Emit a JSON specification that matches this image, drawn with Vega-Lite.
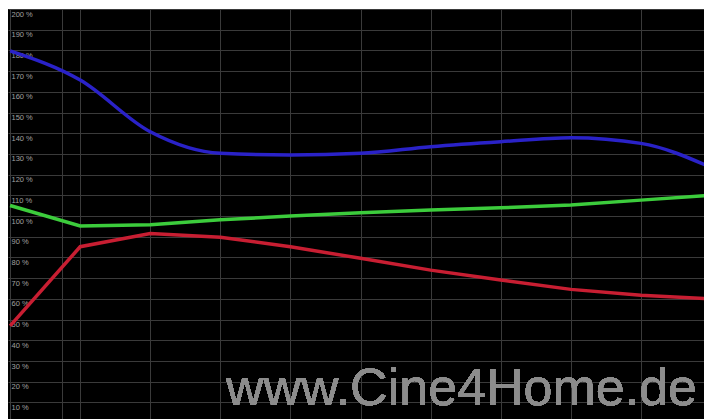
{
  "$schema": "https://vega.github.io/schema/vega-lite/v6.json",
  "width": 704,
  "height": 419,
  "autosize": {"type": "fit", "contains": "padding"},
  "padding": {"top": 9, "left": 8, "right": 0, "bottom": 0},
  "background": "white",
  "config": {"view": {"fill": "black", "stroke": null}},
  "data": {
    "values": [
      {"channel": "Blau", "ire": 0, "pct": 179.8},
      {"channel": "Blau", "ire": 10, "pct": 165.7},
      {"channel": "Blau", "ire": 20, "pct": 140.7},
      {"channel": "Blau", "ire": 30, "pct": 130.3},
      {"channel": "Blau", "ire": 40, "pct": 129.5},
      {"channel": "Blau", "ire": 50, "pct": 130.3},
      {"channel": "Blau", "ire": 60, "pct": 133.5},
      {"channel": "Blau", "ire": 70, "pct": 135.9},
      {"channel": "Blau", "ire": 80, "pct": 137.8},
      {"channel": "Blau", "ire": 90, "pct": 135.1},
      {"channel": "Blau", "ire": 100, "pct": 123.5},
      {"channel": "Grün", "ire": 0, "pct": 105.1},
      {"channel": "Grün", "ire": 10, "pct": 95.2},
      {"channel": "Grün", "ire": 20, "pct": 95.8},
      {"channel": "Grün", "ire": 30, "pct": 98.2},
      {"channel": "Grün", "ire": 40, "pct": 100.0},
      {"channel": "Grün", "ire": 50, "pct": 101.6},
      {"channel": "Grün", "ire": 60, "pct": 102.9},
      {"channel": "Grün", "ire": 70, "pct": 104.0},
      {"channel": "Grün", "ire": 80, "pct": 105.3},
      {"channel": "Grün", "ire": 90, "pct": 107.7},
      {"channel": "Grün", "ire": 100, "pct": 110.0},
      {"channel": "Rot", "ire": 0, "pct": 47.0},
      {"channel": "Rot", "ire": 10, "pct": 85.2},
      {"channel": "Rot", "ire": 20, "pct": 91.6},
      {"channel": "Rot", "ire": 30, "pct": 89.8},
      {"channel": "Rot", "ire": 40, "pct": 85.2},
      {"channel": "Rot", "ire": 50, "pct": 79.6},
      {"channel": "Rot", "ire": 60, "pct": 73.9},
      {"channel": "Rot", "ire": 70, "pct": 69.1},
      {"channel": "Rot", "ire": 80, "pct": 64.6},
      {"channel": "Rot", "ire": 90, "pct": 61.8},
      {"channel": "Rot", "ire": 100, "pct": 60.0}
    ]
  },
  "encoding": {
    "x": {
      "field": "ire",
      "type": "quantitative",
      "scale": {"domain": [-0.3, 99], "nice": false, "zero": false},
      "axis": {
        "values": [0, 7.4, 10, 20, 30, 40, 50, 60, 70, 80, 90],
        "tickCount": 30,
        "grid": true,
        "gridColor": "#3a3a3a",
        "gridWidth": 1,
        "labels": false,
        "ticks": false,
        "domain": false,
        "title": null
      }
    },
    "y": {
      "field": "pct",
      "type": "quantitative",
      "scale": {"domain": [2, 200], "nice": false, "zero": false},
      "axis": {
        "values": [10, 20, 30, 40, 50, 60, 70, 80, 90, 100, 110, 120, 130, 140, 150, 160, 170, 180, 190, 200],
        "tickCount": 40,
        "grid": true,
        "gridColor": "#3a3a3a",
        "gridWidth": 1,
        "ticks": false,
        "domain": false,
        "title": null,
        "labelExpr": "datum.value + ' %'",
        "labelAlign": "left",
        "labelBaseline": "top",
        "labelPadding": -3,
        "labelOffset": 1,
        "labelFont": "Liberation Sans",
        "labelFontSize": 7.5,
        "labelColor": "#a0a0a0",
        "labelFlush": false,
        "labelOverlap": false
      }
    },
    "color": {
      "field": "channel",
      "type": "nominal",
      "scale": {"domain": ["Rot", "Grün", "Blau"], "range": ["#c81e32", "#3ccc3c", "#2a22c8"]},
      "legend": null
    }
  },
  "layer": [
    {
      "transform": [{"filter": "datum.channel !== 'Blau'"}],
      "mark": {"type": "line", "interpolate": "linear", "strokeWidth": 3.5, "clip": true}
    },
    {
      "transform": [{"filter": "datum.channel === 'Blau'"}],
      "mark": {"type": "line", "interpolate": "monotone", "strokeWidth": 3.5, "clip": true}
    },
    {
      "mark": {
        "type": "text",
        "align": "right",
        "baseline": "alphabetic",
        "font": "Liberation Sans",
        "fontSize": 52,
        "color": "#8c8c8c"
      },
      "encoding": {
        "x": {"datum": 98},
        "y": {"datum": 8.8},
        "text": {"value": "www.Cine4Home.de"},
        "color": null
      }
    }
  ]
}
